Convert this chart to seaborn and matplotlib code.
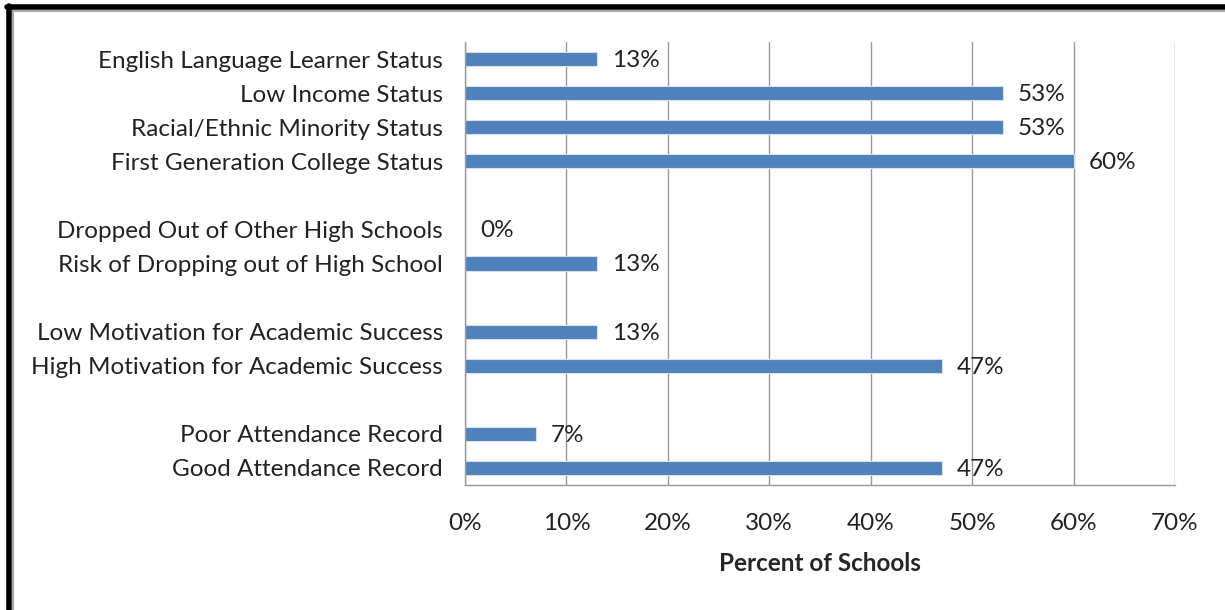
import numpy as np
import pandas as pd
import matplotlib
matplotlib.use('Agg')
import matplotlib.pyplot as plt
import seaborn as sns
from matplotlib.lines import Line2D

categories = [
    'English Language Learner Status',
    'Low Income Status',
    'Racial/Ethnic Minority Status',
    'First Generation College Status',
    ' ',
    'Dropped Out of Other High Schools',
    'Risk of Dropping out of High School',
    '  ',
    'Low Motivation for Academic Success',
    'High Motivation for Academic Success',
    '   ',
    'Poor Attendance Record',
    'Good Attendance Record',
]
percents = [13, 53, 53, 60, np.nan, 0, 13, np.nan, 13, 47, np.nan, 7, 47]
x_ticks = [0, 10, 20, 30, 40, 50, 60, 70]

df = pd.DataFrame({'category': categories, 'percent': percents})

sns.set_style('white')
plt.rcParams['font.family'] = ['Lato', 'DejaVu Sans']
fs = 17.5

fig = plt.figure(figsize=(12.25, 6.1), dpi=100)
ax = fig.add_axes([0.3796, 0.2049, 0.5796, 0.7262])

sns.barplot(data=df.dropna(), y='category', x='percent', order=categories,
            color='#4F81BD', saturation=1, width=0.42, orient='h',
            edgecolor='#D6E0EE', linewidth=0.8, ax=ax)

for p in ax.patches:
    w = p.get_width()
    if np.isnan(w):
        continue
    ax.text(w + 1.5, p.get_y() + p.get_height() / 2 + 0.04, f'{w:.0f}%',
            va='center', ha='left', fontsize=fs, color='#222222')

ax.set_xlim(0, 70)
ax.set_ylim(len(categories) - 0.5, -0.5)
ax.set_xticks(x_ticks)
ax.set_xticklabels([f'{t}%' for t in x_ticks], fontsize=fs, color='#222222')
ax.tick_params(axis='x', length=7, color='#888888', direction='out', pad=13)
ax.tick_params(axis='y', which='major', length=0, pad=16, labelsize=fs,
               labelcolor='#222222')
ax.set_yticks(np.arange(len(categories) + 1) - 0.5, minor=True)
ax.tick_params(axis='y', which='minor', length=7, color='#888888', direction='out')

ax.grid(axis='x', color='#999999', linewidth=1)
ax.set_axisbelow(True)
for s in ['top', 'right']:
    ax.spines[s].set_visible(False)
for s in ['left', 'bottom']:
    ax.spines[s].set_color('#999999')
    ax.spines[s].set_linewidth(1)

ax.set_ylabel('')
ax.set_xlabel('Percent of Schools', fontsize=fs, fontweight='bold', labelpad=13)

# frame lines at the image edges
fig.add_artist(Line2D([0.0075, 0.0075], [0, 0.99], transform=fig.transFigure,
                      color='black', linewidth=4))
fig.add_artist(Line2D([0.006, 1], [0.989, 0.989], transform=fig.transFigure,
                      color='black', linewidth=4))
fig.add_artist(Line2D([0.011, 1], [0.982, 0.982], transform=fig.transFigure,
                      color='#aaaaaa', linewidth=1.5))
fig.add_artist(Line2D([0.0105, 0.0105], [0, 0.982], transform=fig.transFigure,
                      color='#aaaaaa', linewidth=1.5))

fig.savefig('out.png', dpi=100)
